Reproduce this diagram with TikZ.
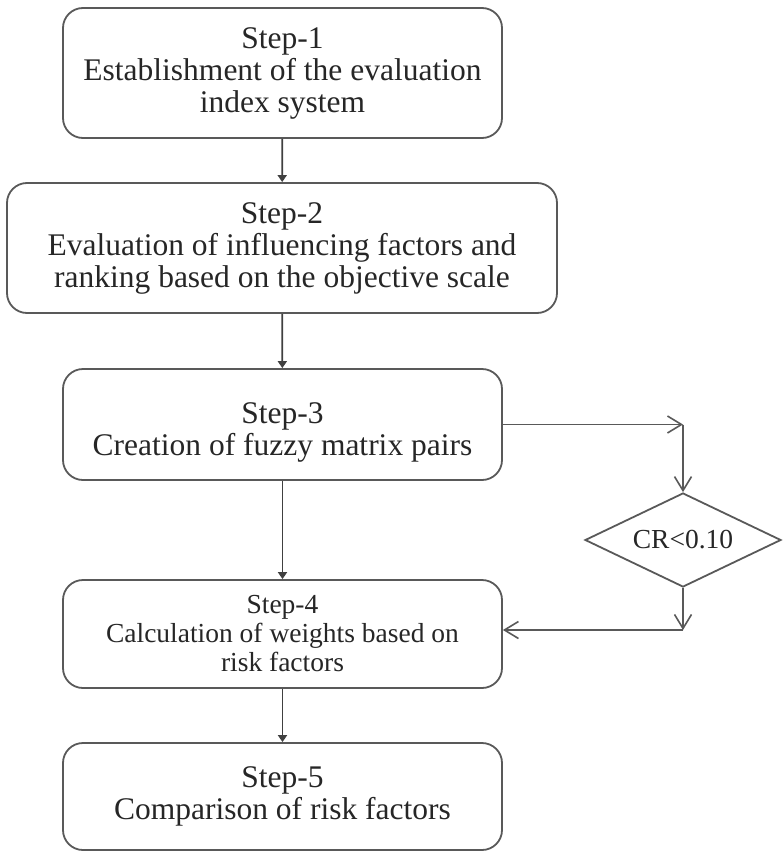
\documentclass[tikz,border=0pt]{standalone}
\usepackage{fontspec}
\setmainfont{Liberation Serif}
\usetikzlibrary{arrows.meta,shapes.geometric}
\begin{document}
\begin{tikzpicture}[x=1pt,y=-1pt,
  stepbox/.style={draw=black!65, line width=1.8pt, rounded corners=20pt,
    align=center, minimum width=439pt, text=black!85,
    font=\fontsize{31.5}{32}\selectfont},
  checkbox/.style={draw=black!65, line width=1.8pt, diamond, aspect=2.1,
    inner sep=0pt, minimum width=196pt, minimum height=94pt, text=black!85,
    font=\fontsize{27.5}{28}\selectfont},
  mainarrow/.style={draw=black!75, line width=1.8pt, -{Triangle[length=7pt,width=9pt]}},
  loopline/.style={draw=black!65, line width=1.6pt, -{Straight Barb[length=14pt,width=17pt]}}]
% Page size as in the reference
\useasboundingbox (0,0) rectangle (783,851);

% The five steps
\node[stepbox, minimum height=130pt] (s1) at (282.5,73) {Step-1\\Establishment of the evaluation\\index system};
\node[stepbox, minimum width=550pt, minimum height=130pt] (s2) at (282,248) {Step-2\\Evaluation of influencing factors and\\ranking based on the objective scale};
\node[stepbox, minimum height=111pt] (s3) at (282.5,424.5) {\rule{0pt}{36pt}Step-3\\Creation of fuzzy matrix pairs};
\node[stepbox, minimum height=108pt, font=\fontsize{27.5}{29}\selectfont] (s4) at (282.5,634) {Step-4\\Calculation of weights based on\\risk factors};
\node[stepbox, minimum height=107pt] (s5) at (282.5,796.5) {Step-5\\Comparison of risk factors};

% Consistency check
\node[checkbox] (cr) at (683,540) {CR<0.10};

% Main flow
\draw[mainarrow] (s1) -- (s2);
\draw[mainarrow] (s2) -- (s3);
\draw[mainarrow] (s3) -- (s4);
\draw[mainarrow] (s4) -- (s5);

% Side loop through the check
\coordinate (turnA) at (s3.east -| cr.north);
\coordinate (turnB) at (cr.south |- 0,630);
\draw[loopline] (s3.east) -- (turnA);
\draw[loopline] (turnA) -- (cr.north);
\draw[loopline] (cr.south) -- (turnB);
\draw[loopline] (turnB) -- (turnB -| s4.east);
\end{tikzpicture}
\end{document}
